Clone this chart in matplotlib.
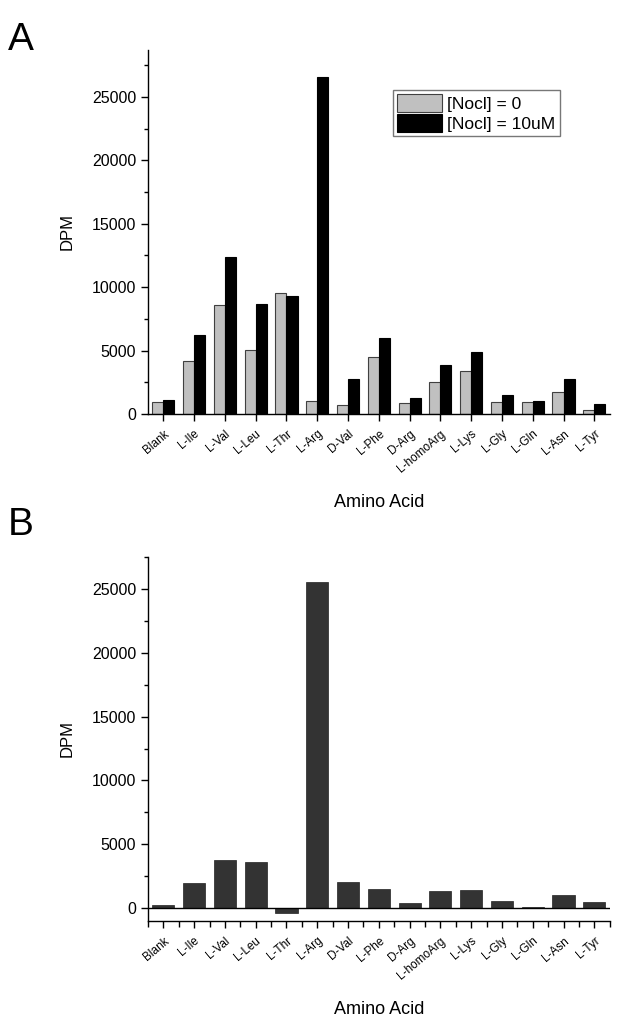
import matplotlib
matplotlib.use('Agg')
import matplotlib.pyplot as plt
from matplotlib.ticker import MultipleLocator
import numpy as np

plt.rcParams['font.family'] = ['Liberation Sans', 'DejaVu Sans']

acids = ['Blank', 'L-Ile', 'L-Val', 'L-Leu', 'L-Thr', 'L-Arg', 'D-Val', 'L-Phe',
         'D-Arg', 'L-homoArg', 'L-Lys', 'L-Gly', 'L-Gln', 'L-Asn', 'L-Tyr']
nocl_0 = [920, 4180, 8570, 5050, 9570, 1030, 690, 4500, 870, 2520, 3420, 920, 920, 1710, 340]
nocl_10 = [1130, 6200, 12360, 8680, 9280, 26550, 2740, 6020, 1260, 3890, 4860, 1470, 1030, 2760, 790]
diff = [240, 1980, 3740, 3630, -340, 25550, 2040, 1540, 390, 1360, 1410, 570, 100, 1070, 470]

x = np.arange(len(acids))

fig = plt.figure(figsize=(6.19, 10.24), dpi=100)

def style_axes(ax):
    for s in ['top', 'right']:
        ax.spines[s].set_visible(False)
    ax.spines['left'].set_linewidth(1.0)
    ax.spines['bottom'].set_linewidth(1.0)
    ax.yaxis.set_major_locator(MultipleLocator(5000))
    ax.yaxis.set_minor_locator(MultipleLocator(2500))
    ax.tick_params(axis='y', which='major', direction='out', length=5, width=1, labelsize=11.5)
    ax.tick_params(axis='y', which='minor', direction='out', length=3, width=1)
    ax.set_xticks(x)
    ax.set_xticklabels(acids, rotation=40, ha='right', rotation_mode='anchor', fontsize=8.5)
    ax.tick_params(axis='x', which='major', direction='out', length=5, width=1, pad=5)
    ax.set_xlim(-0.5, 14.5)
    ax.set_ylabel('DPM', fontsize=12, labelpad=12)
    ax.set_xlabel('Amino Acid', fontsize=13, labelpad=14)

# panel A
axA = fig.add_axes([0.239, 0.5957, 0.746, 0.3555])
w = 0.36
axA.bar(x - w/2, nocl_0, w, color='#c0c0c0', edgecolor='#404040', linewidth=0.8, label='[Nocl] = 0')
axA.bar(x + w/2, nocl_10, w, color='black', edgecolor='black', linewidth=0.8, label='[Nocl] = 10uM')
axA.set_ylim(0, 28700)
style_axes(axA)
axA.legend(loc='upper left', bbox_to_anchor=(0.53, 0.89), fontsize=12.5, frameon=True,
           fancybox=False, edgecolor='#555555', handlelength=2.6, handleheight=1.2,
           handletextpad=0.3, borderpad=0.25, labelspacing=0.1, borderaxespad=0)

# panel B
axB = fig.add_axes([0.239, 0.1006, 0.746, 0.3555])
axB.bar(x, diff, 0.72, color='#333333', edgecolor='#222222', linewidth=0.5)
axB.axhline(0, color='black', linewidth=1)
axB.set_ylim(-1000, 27500)
style_axes(axB)
axB.xaxis.set_minor_locator(MultipleLocator(0.5))
axB.tick_params(axis='x', which='minor', direction='out', length=4, width=1)

fig.text(0.012, 0.961, 'A', fontsize=28, ha='left', va='center')
fig.text(0.012, 0.487, 'B', fontsize=28, ha='left', va='center')

fig.savefig('out.png', dpi=100)
